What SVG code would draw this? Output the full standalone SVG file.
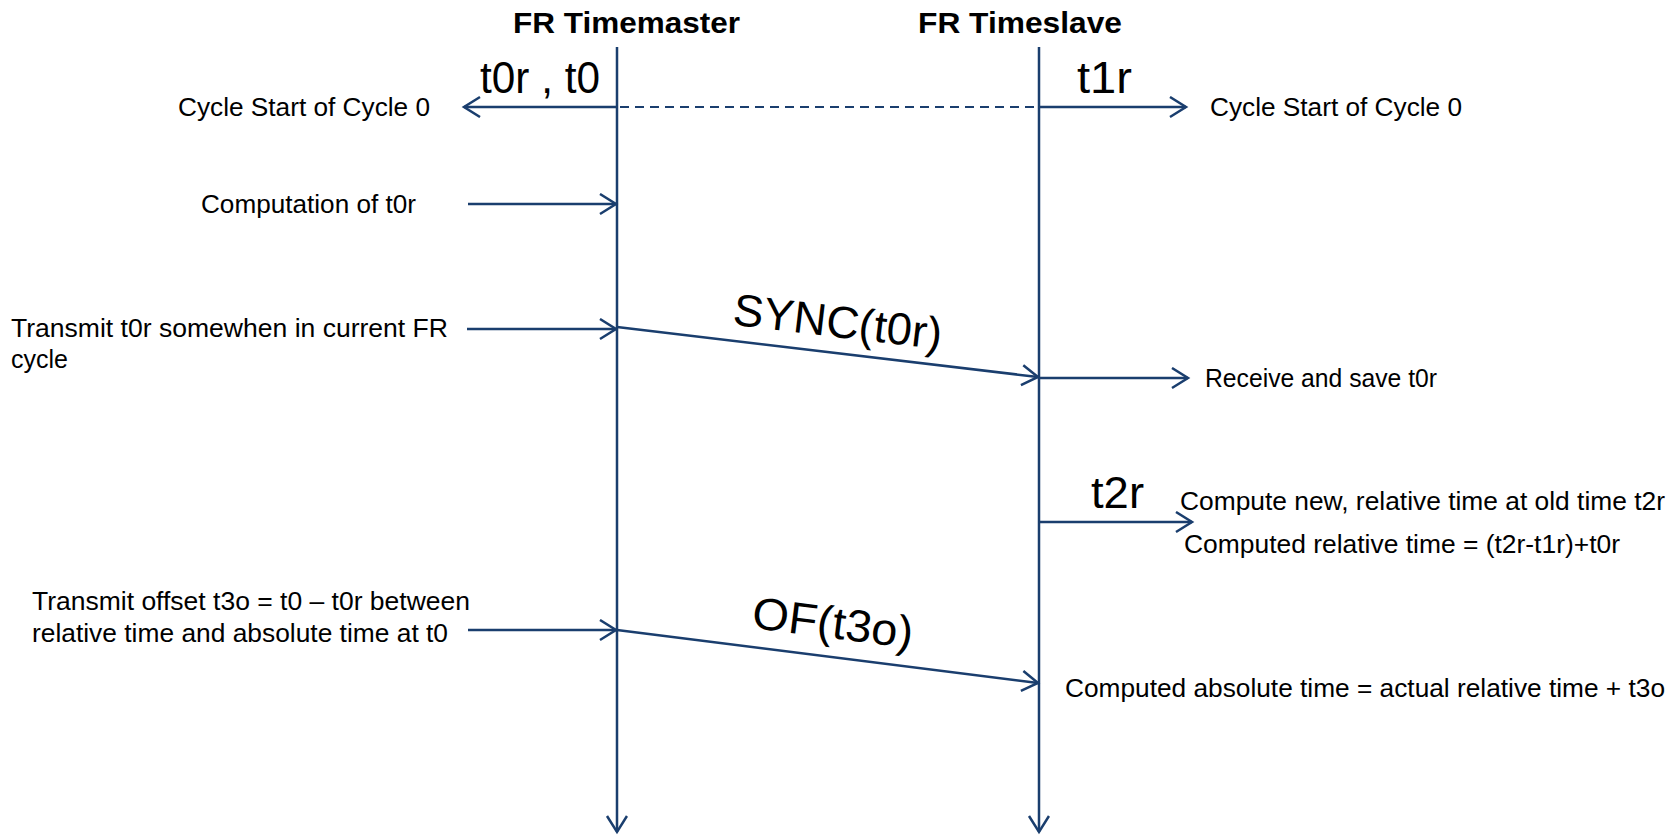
<svg xmlns="http://www.w3.org/2000/svg" width="1674" height="835" viewBox="0 0 1674 835">
  <style>
    .ln { stroke: #1a3e6e; stroke-width: 2.5; fill: none; }
    .dash { stroke: #1a3e6e; stroke-width: 2; fill: none; stroke-dasharray: 9 6; }
    .title { font-family: "Liberation Sans", Arial, sans-serif; font-weight: bold; font-size: 30px; fill: #000; }
    .note { font-family: "Liberation Sans", Arial, sans-serif; font-size: 25px; fill: #000; }
    .big { font-family: "Liberation Sans", Arial, sans-serif; font-size: 45px; fill: #000; }
  </style>
  <defs>
    <marker id="open" markerUnits="userSpaceOnUse" markerWidth="20" markerHeight="24" refX="17" refY="11" orient="auto">
      <path d="M1,1 L17,11 L1,21" fill="none" stroke="#1a3e6e" stroke-width="2.5"/>
    </marker>
  </defs>

  <rect width="1674" height="835" fill="#fff"/>

  <!-- lifelines -->
  <g id="timemaster">
    <text class="title" x="513" y="33" textLength="227" lengthAdjust="spacingAndGlyphs">FR Timemaster</text>
    <line class="ln" x1="617" y1="47" x2="617" y2="832" marker-end="url(#open)"/>
  </g>
  <g id="timeslave">
    <text class="title" x="918" y="33" textLength="204" lengthAdjust="spacingAndGlyphs">FR Timeslave</text>
    <line class="ln" x1="1039" y1="47" x2="1039" y2="832" marker-end="url(#open)"/>
  </g>

  <!-- event notes -->
  <g id="cycle-start-master">
    <text class="note" x="178" y="116" textLength="252" lengthAdjust="spacingAndGlyphs">Cycle Start of Cycle 0</text>
    <text class="big" x="480" y="93" textLength="120" lengthAdjust="spacingAndGlyphs">t0r , t0</text>
  </g>
  <g id="cycle-start-slave">
    <text class="note" x="1210" y="116" textLength="252" lengthAdjust="spacingAndGlyphs">Cycle Start of Cycle 0</text>
    <text class="big" x="1077" y="93" textLength="55" lengthAdjust="spacingAndGlyphs">t1r</text>
  </g>
  <g id="computation">
    <text class="note" x="201" y="213" textLength="215" lengthAdjust="spacingAndGlyphs">Computation of t0r</text>
  </g>
  <g id="transmit-sync">
    <text class="note" x="11" y="337" textLength="437" lengthAdjust="spacingAndGlyphs">Transmit t0r somewhen in current FR</text>
    <text class="note" x="11" y="368">cycle</text>
  </g>
  <g id="receive">
    <text class="note" x="1205" y="387" textLength="232" lengthAdjust="spacingAndGlyphs">Receive and save t0r</text>
  </g>
  <g id="compute-relative">
    <text class="big" x="1091" y="508" textLength="53" lengthAdjust="spacingAndGlyphs">t2r</text>
    <text class="note" x="1180" y="510" textLength="485" lengthAdjust="spacingAndGlyphs">Compute new, relative time at old time t2r</text>
    <text class="note" x="1184" y="553" textLength="436" lengthAdjust="spacingAndGlyphs">Computed relative time = (t2r-t1r)+t0r</text>
  </g>
  <g id="transmit-offset">
    <text class="note" x="32" y="610" textLength="438" lengthAdjust="spacingAndGlyphs">Transmit offset t3o = t0 – t0r between</text>
    <text class="note" x="32" y="642" textLength="416" lengthAdjust="spacingAndGlyphs">relative time and absolute time at t0</text>
  </g>
  <g id="compute-absolute">
    <text class="note" x="1065" y="697" textLength="600" lengthAdjust="spacingAndGlyphs">Computed absolute time = actual relative time + t3o</text>
  </g>

  <!-- connectors -->
  <g id="connectors">
    <line class="ln" x1="617" y1="107" x2="464" y2="107" marker-end="url(#open)"/>
    <line class="dash" x1="620" y1="107" x2="1036" y2="107"/>
    <line class="ln" x1="1039" y1="107" x2="1186" y2="107" marker-end="url(#open)"/>
    <line class="ln" x1="468" y1="204" x2="616" y2="204" marker-end="url(#open)"/>
    <line class="ln" x1="467" y1="329" x2="616" y2="329" marker-end="url(#open)"/>
    <line class="ln" x1="617" y1="327" x2="1038" y2="377" marker-end="url(#open)"/>
    <text class="big" x="836" y="337" text-anchor="middle" textLength="210" lengthAdjust="spacingAndGlyphs" transform="rotate(6.8 836 337)">SYNC(t0r)</text>
    <line class="ln" x1="1039" y1="378" x2="1188" y2="378" marker-end="url(#open)"/>
    <line class="ln" x1="1039" y1="522" x2="1192" y2="522" marker-end="url(#open)"/>
    <line class="ln" x1="468" y1="630" x2="616" y2="630" marker-end="url(#open)"/>
    <line class="ln" x1="617" y1="630" x2="1038" y2="683" marker-end="url(#open)"/>
    <text class="big" x="831" y="638" text-anchor="middle" textLength="162" lengthAdjust="spacingAndGlyphs" transform="rotate(7.2 831 638)">OF(t3o)</text>
  </g>
</svg>
